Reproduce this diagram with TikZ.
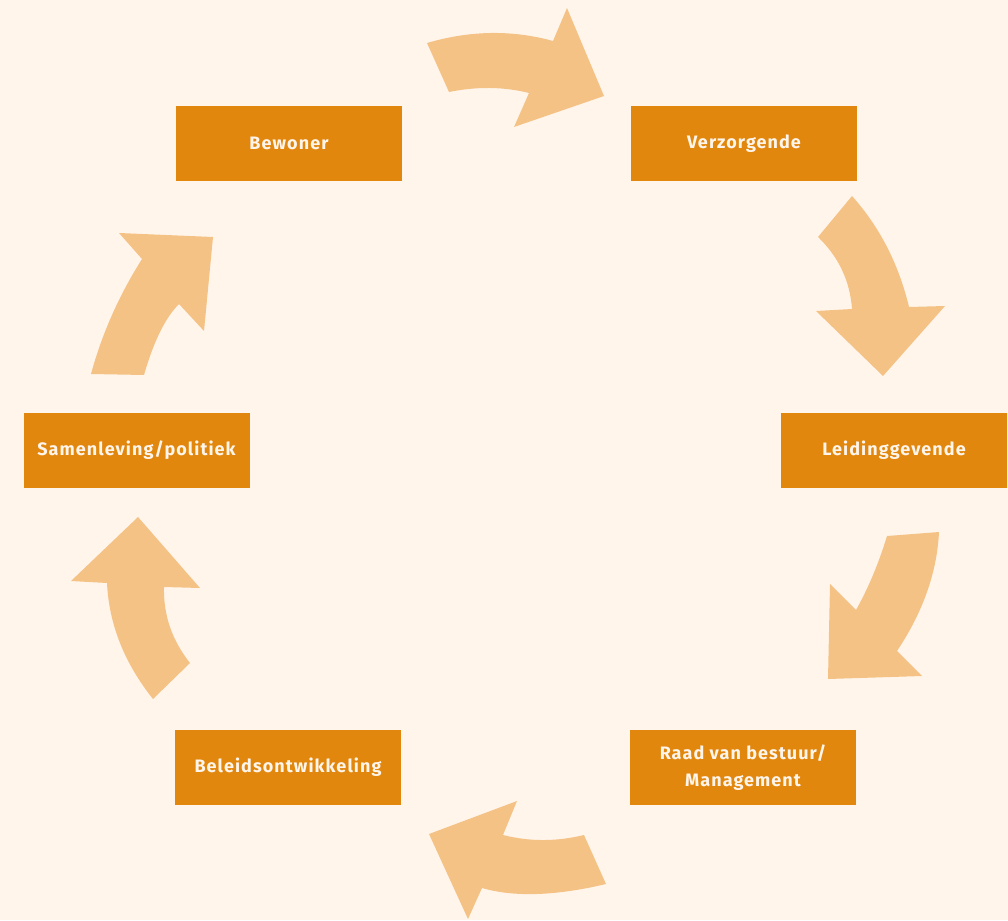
\documentclass[tikz,border=0pt]{standalone}
\usepackage{fontspec}
\setmainfont{Fira Sans}
\newfontfamily\boxfont[LetterSpace=6]{Fira Sans}
\definecolor{bgc}{HTML}{FFF5EB}
\definecolor{boxc}{HTML}{E1870E}
\definecolor{arrc}{HTML}{F5C285}
\begin{document}
\begin{tikzpicture}[x=1pt,y=-1pt,
  box/.style={fill=boxc, minimum width=226pt, minimum height=75pt, inner sep=0pt,
    text=bgc, font=\boxfont\bfseries\fontsize{18}{27}\selectfont, align=center},
  arr/.style={fill=arrc}]
\useasboundingbox (0,0) rectangle (1008,920);
\fill[bgc] (0,0) rectangle (1008,920);
% arrows
\fill[arr] (427,43) .. controls (470.3,30.3) and (512.3,29.7) .. (553,41) -- (567,8) -- (604,96) -- (514,127) -- (529,93) .. controls (503.7,86.7) and (477,86.3) .. (449,92) -- cycle;
\fill[arr] (852,196) .. controls (879.7,227) and (898.7,264) .. (909,307) -- (945,306) -- (883,376) -- (816,311) -- (852,309) .. controls (850,281) and (838.7,257) .. (818,237) -- cycle;
\fill[arr] (939,532) .. controls (937,572.3) and (923,612) .. (897,651) -- (922,676) -- (828,679) -- (830,584) -- (856,610) .. controls (868.3,588) and (878.7,563.3) .. (887,536) -- cycle;
\fill[arr] (584,835) .. controls (556.3,841.7) and (529.3,841.7) .. (503,835) -- (517,801) -- (429,834) -- (468,919) -- (482,888) .. controls (514,897.3) and (555.3,896) .. (606,884) -- cycle;
\fill[arr] (153,699) .. controls (124.3,663) and (109,624.3) .. (107,583) -- (71,581) -- (138,517) -- (200,588) -- (164,587) .. controls (163.3,615) and (172,640.3) .. (190,663) -- cycle;
\fill[arr] (91,374) .. controls (102,333.7) and (119,295.3) .. (142,259) -- (119,233) -- (213,237) -- (204,331) -- (179,304) .. controls (165.3,317.7) and (153.7,341.3) .. (144,375) -- cycle;
% boxes
\node[box] (bew) at (289,143.5) {Bewoner};
\node[box] (ver) at (744,143.5) {Verzorgende};
\node[box] (lei) at (894,450.5) {Leidinggevende};
\node[box] (raad) at (743,767.5) {Raad van bestuur/\\Management};
\node[box] (bel) at (288,767.5) {Beleidsontwikkeling};
\node[box] (sam) at (136.5,450.5) {Samenleving/politiek};
\end{tikzpicture}
\end{document}
